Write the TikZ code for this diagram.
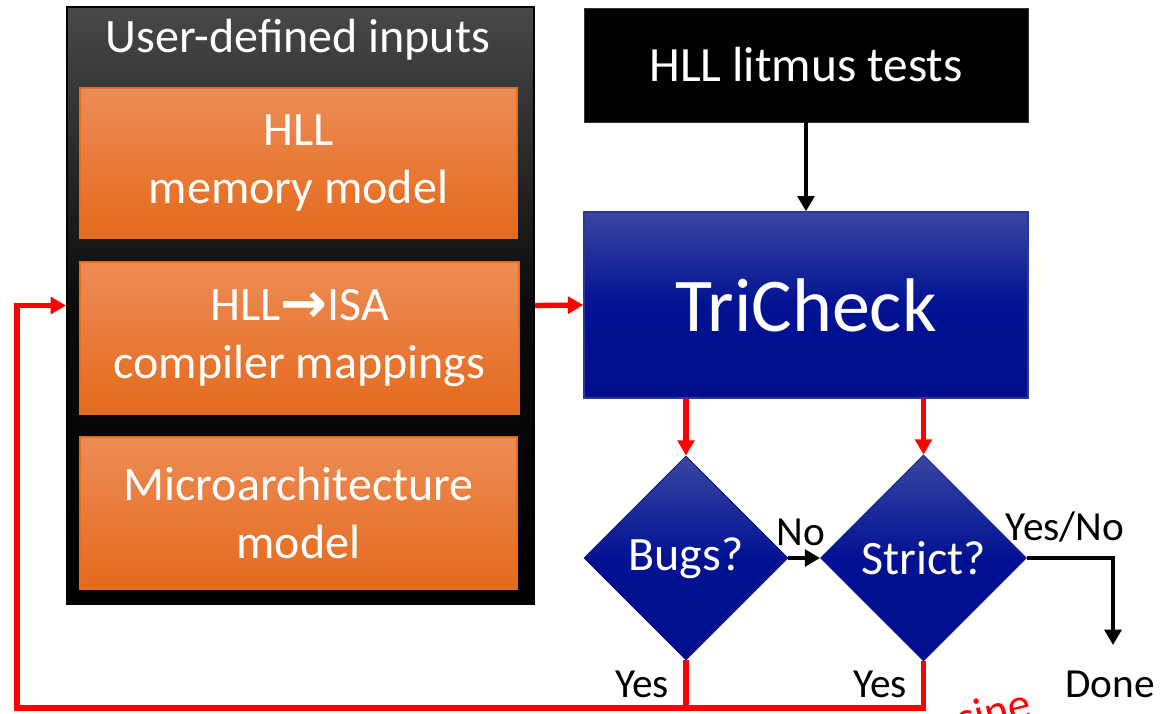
\documentclass[tikz,border=0pt]{standalone}
\usepackage{fontspec}
\setmainfont{Carlito}
\newfontfamily\arrowfont{DejaVu Sans}
\usetikzlibrary{shapes.geometric,arrows.meta}

\definecolor{orangetop}{RGB}{237,140,86}
\definecolor{orangebot}{RGB}{228,106,28}
\definecolor{orangeedge}{RGB}{226,110,30}
\definecolor{bluetop}{RGB}{58,70,162}
\definecolor{bluemid}{RGB}{0,18,146}
\definecolor{bluebot}{RGB}{0,14,140}
\definecolor{panelgray}{RGB}{72,72,72}
\definecolor{flowred}{RGB}{255,0,0}

\tikzset{
  panelbox/.style={draw=black, line width=1.5pt, top color=panelgray,
    bottom color=black, middle color=black!85!panelgray, inner sep=0pt},
  inputbox/.style={draw=orangeedge, line width=1pt, top color=orangetop,
    bottom color=orangebot, text=white, align=center, inner sep=0pt,
    font=\fontsize{36}{43}\selectfont},
  darkbox/.style={draw=black!80, fill=black, text=white, inner sep=0pt},
  toolbox/.style={draw=bluetop!70!bluemid, line width=1pt, top color=bluetop,
    bottom color=bluebot, middle color=bluemid, text=white, inner sep=0pt},
  decision/.style={diamond, aspect=1, draw=bluemid, line width=0.6pt,
    top color=bluetop, bottom color=bluebot, middle color=bluemid,
    text=white, inner sep=0pt, font=\fontsize{36}{40}\selectfont},
  redflow/.style={draw=flowred, line width=4pt},
  redarrow/.style={redflow, -{Triangle[width=12.5pt,length=11.5pt]}},
  blackarrow/.style={draw=black, line width=3pt, -{Triangle[width=12.5pt,length=11.5pt]}},
  label/.style={text=black, inner sep=0pt, anchor=base, font=\fontsize{31}{36}\selectfont},
}

\begin{document}
\begin{tikzpicture}[x=0.75pt,y=-0.75pt]
\useasboundingbox (0,0) rectangle (1161,714);

% left column: user-defined inputs
\node[panelbox, minimum width=350.25pt, minimum height=447.75pt] (inputs) at (300.5,305.5) {};
\node[text=white, inner sep=0pt, anchor=base, font=\fontsize{36}{43}\selectfont] (title) at (298,52) {User-defined inputs};
\node[inputbox, minimum width=327.75pt, minimum height=112.5pt] (hllmm) at (298.5,163) {HLL\\memory model};
\node[inputbox, minimum width=329.25pt, minimum height=114pt] (mapping) at (299.5,338) {HLL{\arrowfont\bfseries\fontsize{42}{43}\selectfont\raisebox{-1pt}{→}}ISA\\compiler mappings};
\node[inputbox, minimum width=327.75pt, minimum height=114pt] (uarch) at (298.5,513) {Microarchitecture\\model};

% right column
\node[darkbox, minimum width=333pt, minimum height=85.5pt, font=\fontsize{37}{40}\selectfont] (litmus) at (806,65) {HLL litmus tests};
\node[toolbox, minimum width=333pt, minimum height=139.5pt, font=\fontsize{57}{60}\selectfont] (tricheck) at (806,305) {TriCheck};

\node[decision, minimum width=153pt, minimum height=153pt] (bugs) at (686,558) {Bugs?};
\node[decision, minimum width=154.5pt, minimum height=154.5pt] (strict) at (923.5,558) {Strict?};

% edge labels
\node[label] (no) at (801,545) {No};
\node[label] (yesno) at (1065,540) {Yes/No};
\node[label] (yes1) at (642,697) {Yes};
\node[label] (yes2) at (880,697) {Yes};
\node[label] (done) at (1110,697) {Done};

% connectors
\coordinate (doneend) at (1113,645);
\coordinate (loopbottom) at (17,708);

\draw[blackarrow] (litmus.south) -- (tricheck.north);
\draw[redarrow] (inputs.east) -- (tricheck.west);
\draw[redarrow] (tricheck.south -| bugs.north) -- (bugs.north);
\draw[redarrow] (tricheck.south -| strict.north) -- (strict.north);
\draw[blackarrow] (bugs.east) -- (strict.west);
\draw[blackarrow, line join=miter] (strict.east) -| (doneend);
\draw[redflow] (bugs.south) -- (bugs.south |- loopbottom);
\draw[redarrow, line join=miter] (strict.south) |- (loopbottom) |- (inputs.west);

% handwritten note, partly cut off by the lower edge
\begin{scope}
  \clip (0,0) rectangle (1161,714);
  \node[text=flowred, inner sep=0pt, rotate=14, font=\fontsize{34}{40}\selectfont] (note) at (994,711) {sine};
\end{scope}
\end{tikzpicture}
\end{document}
